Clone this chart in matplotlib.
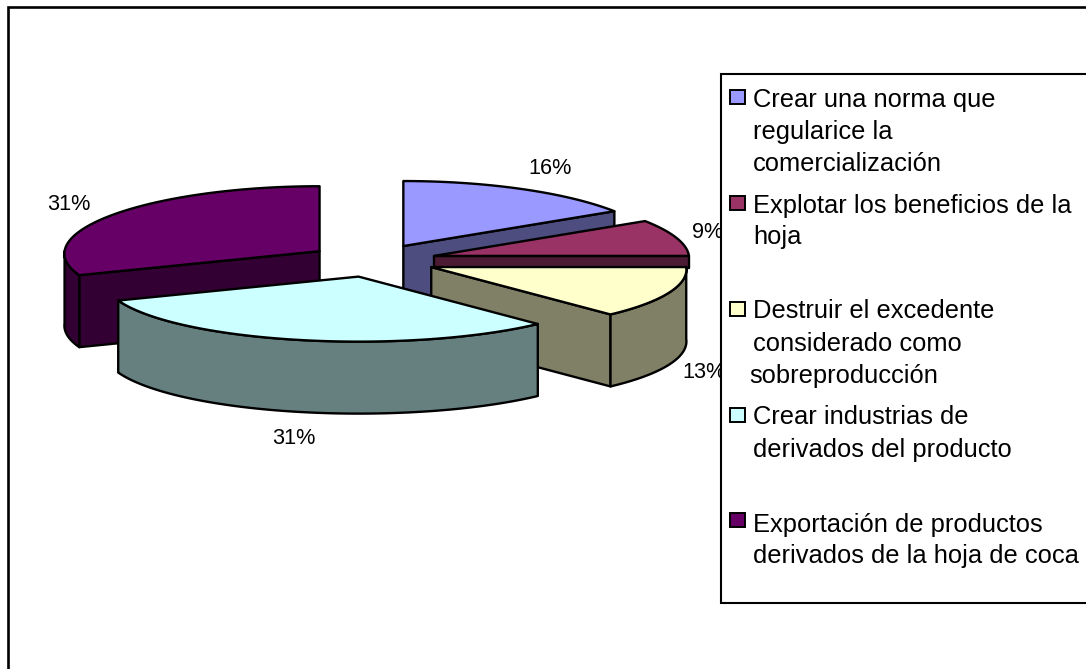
import numpy as np
import matplotlib
matplotlib.use("Agg")
import matplotlib.pyplot as plt
from matplotlib.patches import Polygon, Rectangle

plt.rcParams['font.family'] = ['Liberation Sans', 'DejaVu Sans']

# --- data ---
values = [16, 9, 13, 31, 31]
legend_labels = [
    ["Crear una norma que", "regularice la", "comercialización"],
    ["Explotar los beneficios de la", "hoja"],
    ["Destruir el excedente", "considerado como", "sobreproducción"],
    ["Crear industrias de", "derivados del producto"],
    ["Exportación de productos", "derivados de la hoja de coca"],
]
top_colors = ["#9999FF", "#993366", "#FFFFCC", "#CCFFFF", "#660066"]
side_colors = ["#4D4D80", "#4D1A33", "#808066", "#668080", "#330033"]

# --- layout (pixel coordinates of the figure) ---
W, H = 1086, 669
CX, CY = 372.5, 260.5     # pie centre
RX, RY = 255, 65          # ellipse radii
PERSPECTIVE = 0.037       # nearer parts of the pie are drawn wider
DEPTHS = [72, 12, 72, 72, 72]  # extrusion (second wedge is hidden below its visible strip)
EXPL_X, EXPL_Y = 64, 16.5 # explosion
LW = 1.7

label_pos = [(550, 169), (708, 232), (704, 373), (294, 439), (69, 205)]
legend_box = (721, 74, 400, 529)
marker_y = [90, 196, 302, 408, 513]
legend_baselines = [[107, 139, 171], [213, 244], [318, 351, 383], [424, 457], [532, 563]]
legend_text_x = [[753, 753, 753], [753, 753], [753, 753, 749], [753, 753], [753, 753]]

fig = plt.figure(figsize=(W / 100, H / 100), dpi=100, facecolor="white")
ax = fig.add_axes([0, 0, 1, 1])
ax.set_xlim(0, W)
ax.set_ylim(H, 0)
ax.axis("off")

# outer chart frame, running off the right and bottom edges
ax.add_patch(Rectangle((8, 7), W + 50, H + 50, fc="white", ec="black", lw=1.9, zorder=0))


def rim(cx, cy, a0, a1, dy=0):
    t = np.radians(np.linspace(a0, a1, max(int(abs(a1 - a0)) * 2, 2)))
    return np.column_stack([cx + RX * (1 - PERSPECTIVE * np.cos(t)) * np.sin(t),
                            cy - RY * np.cos(t) + dy])


edges = np.concatenate([[0], np.cumsum(values)]) / sum(values) * 360
wedges = []
for i in range(len(values)):
    a0, a1 = edges[i], edges[i + 1]
    mid = np.radians((a0 + a1) / 2)
    wedges.append((i, a0, a1, CX + EXPL_X * np.sin(mid), CY - EXPL_Y * np.cos(mid)))

# painter's order: back wedges first
order = [0, 1, 4, 2, 3]
for z, i in enumerate(order):
    _, a0, a1, cx, cy = wedges[i]
    zb = 2 + z
    d = DEPTHS[i]
    style = dict(fc=side_colors[i], ec="black", lw=LW, joinstyle="round", zorder=zb)
    # radial faces turned towards the viewer
    for ang, visible in ((a0, np.sin(np.radians(a0)) < -1e-6), (a1, np.sin(np.radians(a1)) > 1e-6)):
        if visible:
            p = rim(cx, cy, ang, ang)[0]
            ax.add_patch(Polygon([(cx, cy), p, p + [0, d], (cx, cy + d)], **style))
    # outer rim
    lo, hi = max(a0, 90), min(a1, 270)
    if hi > lo:
        upper = rim(cx, cy, lo, hi)
        lower = rim(cx, cy, lo, hi, d)[::-1]
        ax.add_patch(Polygon(np.vstack([upper, lower]), **style))
    # top surface
    ax.add_patch(Polygon(np.vstack([[(cx, cy)], rim(cx, cy, a0, a1)]),
                         fc=top_colors[i], ec="black", lw=LW, joinstyle="round", zorder=zb))

# data labels
for v, (x, y) in zip(values, label_pos):
    ax.text(x, y, f"{v}%", fontsize=15.6, ha="center", va="center", color="black", zorder=10)

# legend
lx, ly, lw_, lh = legend_box
ax.add_patch(Rectangle((lx, ly), lw_, lh, fc="white", ec="black", lw=1.5, zorder=20))
for i, lines in enumerate(legend_labels):
    ax.add_patch(Rectangle((730, marker_y[i]), 15, 14, fc=top_colors[i], ec="black", lw=1.4, zorder=21))
    for line, x, y in zip(lines, legend_text_x[i], legend_baselines[i]):
        ax.text(x, y, line, fontsize=18.4, ha="left", va="baseline", color="black", zorder=21)

fig.savefig("out.png", dpi=100)
